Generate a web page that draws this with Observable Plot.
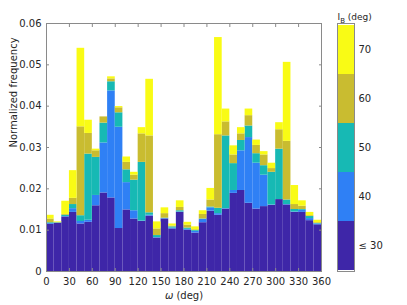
<!DOCTYPE html>
<html>
<head>
<meta charset="utf-8">
<script src="https://cdn.jsdelivr.net/npm/d3@7"></script>
<script src="https://cdn.jsdelivr.net/npm/@observablehq/plot@0.6"></script>
<style>
  html, body { margin: 0; padding: 0; background: white; }
  #wrap { position: relative; width: 407px; height: 305px; }
  #wrap svg { position: absolute; top: 0; }
</style>
</head>
<body>
<div id="wrap"></div>
<script>
// Bin edges of ω (deg)
const edges = [0,10,20,30,40,50,60,70,80,90,100,110,120,130,140,150,160,170,180,190,200,210,220,230,240,250,260,270,280,290,300,310,320,330,340,350,360];
// I_B classes (bottom to top of each stack)
const classes = ["≤ 30", "40", "50", "60", "70"];
const colors = ["#3e26a8", "#2f80f5", "#17b9b4", "#c9bc30", "#f9fb15"];
// Normalized frequency per bin, per class
const le30 = [0.0114,0.0117,0.0132,0.0143,0.0115,0.0119,0.0159,0.0190,0.0178,0.0104,0.0149,0.0127,0.0121,0.0134,0.0081,0.0127,0.0103,0.0143,0.0100,0.0093,0.0118,0.0146,0.0136,0.0151,0.0189,0.0196,0.0165,0.0151,0.0157,0.0160,0.0174,0.0161,0.0143,0.0143,0.0123,0.0113];
const ib40 = [0.0002,0.0000,0.0001,0.0009,0.0006,0.0005,0.0025,0.0121,0.0259,0.0245,0.0066,0.0020,0.0001,0.0002,0.0001,0.0001,0.0002,0.0001,0.0002,0.0004,0.0008,0.0008,0.0004,0.0001,0.0007,0.0096,0.0159,0.0111,0.0076,0.0001,0.0000,0.0001,0.0001,0.0005,0.0005,0.0002];
const ib50 = [0.0002,0.0001,0.0003,0.0010,0.0014,0.0160,0.0092,0.0048,0.0022,0.0035,0.0031,0.0074,0.0142,0.0006,0.0005,0.0001,0.0003,0.0003,0.0003,0.0002,0.0001,0.0002,0.0013,0.0176,0.0065,0.0025,0.0028,0.0023,0.0023,0.0079,0.0122,0.0011,0.0006,0.0002,0.0005,0.0001];
const ib60 = [0.0009,0.0000,0.0002,0.0015,0.0215,0.0050,0.0016,0.0015,0.0007,0.0012,0.0018,0.0012,0.0069,0.0186,0.0016,0.0011,0.0002,0.0008,0.0007,0.0002,0.0011,0.0017,0.0178,0.0034,0.0021,0.0016,0.0025,0.0020,0.0026,0.0009,0.0047,0.0142,0.0012,0.0008,0.0002,0.0002];
const ib70 = [0.0009,0.0002,0.0032,0.0067,0.0190,0.0032,0.0004,0.0000,0.0005,0.0003,0.0013,0.0007,0.0015,0.0137,0.0017,0.0014,0.0005,0.0016,0.0007,0.0007,0.0009,0.0028,0.0235,0.0031,0.0022,0.0015,0.0016,0.0013,0.0008,0.0013,0.0017,0.0191,0.0046,0.0013,0.0008,0.0006];
// Axis ticks
const xTicks = [0,30,60,90,120,150,180,210,240,270,300,330,360];
const yTicks = [0,0.01,0.02,0.03,0.04,0.05,0.06];

const series = [le30, ib40, ib50, ib60, ib70];
const rows = [];
series.forEach((vals, c) => {
  vals.forEach((v, i) => rows.push({x1: edges[i], x2: edges[i + 1], v, cls: classes[c]}));
});

const axisColor = "#8a8a8a";
const font = {fontFamily: "DejaVu Sans, sans-serif", fontSize: "10px", color: "#262626", background: "white", overflow: "visible"};

const main = Plot.plot({
  width: 407, height: 305,
  marginLeft: 46, marginRight: 86, marginTop: 23, marginBottom: 34,
  style: font,
  x: {domain: [0, 360], label: null},
  y: {domain: [0, 0.06], label: null},
  color: {domain: classes, range: colors},
  marks: [
    Plot.rectY(rows, {x1: "x1", x2: "x2", y: "v", fill: "cls"}),
    Plot.frame({stroke: axisColor}),
    Plot.axisX({ticks: xTicks, tickSize: 0, tickPadding: 6, tickFormat: d => String(d), label: null}),
    Plot.axisX({ticks: xTicks, tickSize: -3, tickFormat: () => "", stroke: axisColor, label: null}),
    Plot.axisX({ticks: xTicks, anchor: "top", tickSize: -3, tickFormat: () => "", stroke: axisColor, label: null}),
    Plot.axisY({ticks: yTicks, tickSize: 0, tickPadding: 5, tickFormat: d => d === 0 ? "0" : d.toFixed(2), label: null}),
    Plot.axisY({ticks: yTicks, tickSize: -3, tickFormat: () => "", stroke: axisColor, label: null}),
    Plot.axisY({ticks: yTicks, anchor: "right", tickSize: -3, tickFormat: () => "", stroke: axisColor, label: null}),
    Plot.text(["Normalized frequency"], {text: d => d, frameAnchor: "left", rotate: -90, dx: -33, fontSize: 10, fill: "#262626"}),
    Plot.text(["ω (deg)"], {text: d => d, frameAnchor: "bottom", lineAnchor: "middle", dy: 24, fontSize: 10, fill: "#262626"})
  ]
});

const bar = Plot.plot({
  width: 82, height: 305,
  marginLeft: 12, marginRight: 53, marginTop: 23, marginBottom: 34,
  style: {...font, background: "transparent"},
  y: {type: "band", domain: classes.slice().reverse(), padding: 0, label: null},
  color: {domain: classes, range: colors},
  marks: [
    Plot.cell(classes, {y: d => d, fill: d => d}),
    Plot.frame({stroke: axisColor}),
    Plot.axisY({anchor: "right", tickSize: 0, tickPadding: 4, label: null}),
    Plot.text(["IB (deg)"], {text: d => d, frameAnchor: "top-left", textAnchor: "start", lineAnchor: "bottom", dy: -3.5, fontSize: 9, fill: "#262626"})
  ]
});
bar.style.left = "325px";
main.style.left = "0px";

const wrap = document.getElementById("wrap");
wrap.appendChild(main);
wrap.appendChild(bar);

// Rich text: italic ω and subscript B
function rebuild(svg, content, parts) {
  d3.select(svg).selectAll("text").filter(function() { return this.textContent === content; }).each(function() {
    const t = d3.select(this);
    t.text(null);
    parts.forEach(p => {
      const s = t.append("tspan").text(p.text);
      if (p.italic) s.attr("font-style", "italic");
      if (p.size) s.attr("font-size", p.size);
      if (p.dy) s.attr("dy", p.dy);
    });
  });
}
rebuild(main, "ω (deg)", [{text: "ω", italic: true}, {text: " (deg)"}]);
rebuild(bar, "IB (deg)", [{text: "I"}, {text: "B", size: 7, dy: 2.5}, {text: " (deg)", dy: -2.5}]);
</script>
</body>
</html>
